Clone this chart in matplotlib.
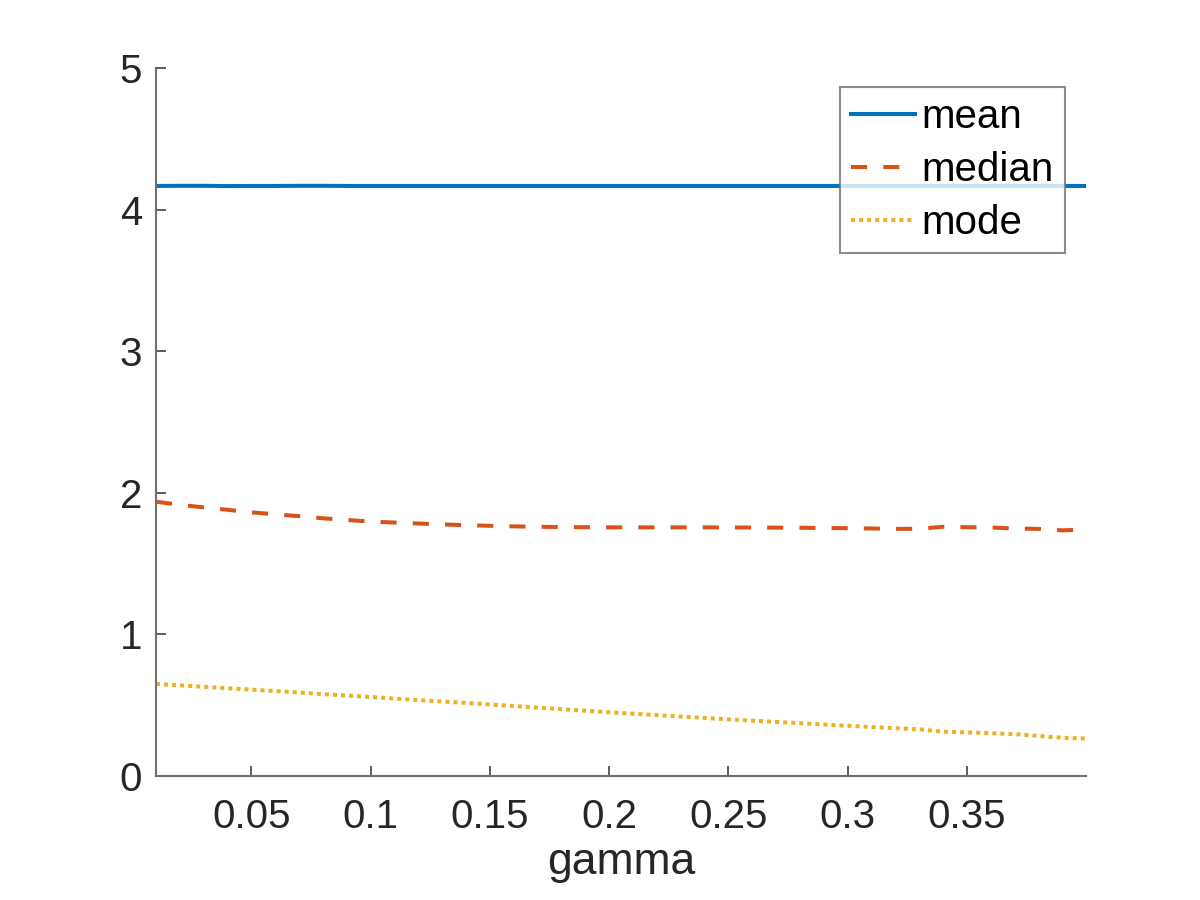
import matplotlib
matplotlib.use('Agg')
import matplotlib.pyplot as plt

plt.rcParams['font.family'] = ['Liberation Sans', 'DejaVu Sans']

gamma = [0.01, 0.02, 0.03, 0.04, 0.05, 0.06, 0.07, 0.08, 0.09, 0.10,
         0.11, 0.12, 0.13, 0.14, 0.15, 0.16, 0.17, 0.18, 0.19, 0.20,
         0.21, 0.22, 0.23, 0.24, 0.25, 0.26, 0.27, 0.28, 0.29, 0.30,
         0.31, 0.32, 0.33, 0.34, 0.35, 0.36, 0.37, 0.38, 0.39, 0.40]

mean_vals = [4.167, 4.168, 4.168, 4.166, 4.167, 4.167, 4.168, 4.168, 4.167, 4.167,
             4.167, 4.167, 4.167, 4.167, 4.167, 4.167, 4.167, 4.167, 4.167, 4.167,
             4.167, 4.167, 4.167, 4.167, 4.167, 4.167, 4.167, 4.167, 4.167, 4.167,
             4.167, 4.167, 4.167, 4.167, 4.167, 4.167, 4.167, 4.167, 4.167, 4.167]

median_vals = [1.937, 1.915, 1.897, 1.880, 1.862, 1.848, 1.835, 1.820, 1.808, 1.797,
               1.790, 1.783, 1.777, 1.771, 1.767, 1.763, 1.760, 1.758, 1.757, 1.756,
               1.756, 1.756, 1.756, 1.756, 1.755, 1.755, 1.754, 1.753, 1.752, 1.750,
               1.748, 1.745, 1.746, 1.760, 1.757, 1.755, 1.748, 1.745, 1.735, 1.740]

mode_vals = [0.650, 0.640, 0.630, 0.620, 0.610, 0.600, 0.590, 0.578, 0.568, 0.558,
             0.547, 0.536, 0.526, 0.516, 0.505, 0.494, 0.483, 0.472, 0.461, 0.450,
             0.440, 0.430, 0.420, 0.410, 0.400, 0.391, 0.382, 0.373, 0.364, 0.355,
             0.346, 0.337, 0.330, 0.313, 0.308, 0.302, 0.296, 0.283, 0.270, 0.265]

fig = plt.figure(figsize=(12, 9), dpi=100)
ax = fig.add_axes([156/1200, 124/900, 930/1200, 708/900])

lw = 2.9
ax.plot(gamma, mean_vals, color='#0072BD', lw=lw, label='mean')
ax.plot(gamma, median_vals, color='#D95319', lw=lw, dashes=(4, 4), label='median')
ax.plot(gamma, mode_vals, color='#EDB120', lw=lw, dashes=(1, 1),
        dash_capstyle='butt', label='mode')

ax.set_xlim(0.01, 0.4)
ax.set_ylim(0, 5)
ax.set_xticks([0.05, 0.1, 0.15, 0.2, 0.25, 0.3, 0.35])
ax.set_xticklabels(['0.05', '0.1', '0.15', '0.2', '0.25', '0.3', '0.35'])
ax.set_yticks([0, 1, 2, 3, 4, 5])

for side in ['top', 'right']:
    ax.spines[side].set_visible(False)
for side in ['left', 'bottom']:
    ax.spines[side].set_color('#707070')
    ax.spines[side].set_linewidth(1.5)

ax.tick_params(direction='in', length=7, width=1.2, color='#404040',
               labelsize=29, labelcolor='#262626')
ax.tick_params(axis='y', pad=10)
ax.tick_params(axis='x', pad=16)

ax.set_xlabel('gamma', fontsize=32, color='#262626', labelpad=4)

leg = ax.legend(loc='upper right', bbox_to_anchor=(1065/1200, 1 - 87/900),
                bbox_transform=fig.transFigure, fontsize=29, frameon=True,
                fancybox=False, borderaxespad=0, borderpad=0.28,
                handlelength=1.6, handletextpad=0.15, labelspacing=0.37)
leg.get_frame().set_edgecolor('#707070')
leg.get_frame().set_linewidth(1.5)

fig.savefig('out.png', dpi=100)
